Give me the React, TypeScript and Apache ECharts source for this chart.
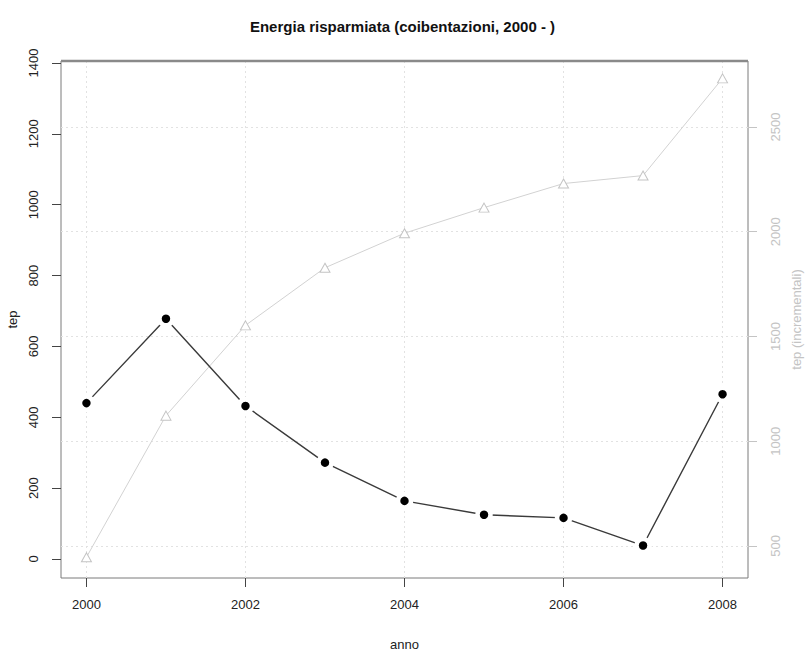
import React, { useEffect, useRef } from "react";
import * as echarts from "echarts";

const years = [2000, 2001, 2002, 2003, 2004, 2005, 2006, 2007, 2008];
const tepValues = [440, 678, 432, 272, 164, 125, 116, 38, 465];
const tepIncremental = [446, 1122, 1553, 1828, 1993, 2115, 2230, 2268, 2732];
const xTicks = [2000, 2002, 2004, 2006, 2008];
const leftTicks = [0, 200, 400, 600, 800, 1000, 1200, 1400];
const rightTicks = [500, 1000, 1500, 2000, 2500];

const FONT = "Liberation Sans";

export default function App() {
  const ref = useRef<HTMLDivElement>(null);
  useEffect(() => {
    if (!ref.current) return;
    const chart = echarts.init(ref.current, null, { renderer: "svg" });
    const gridStyle = { color: "#e2e2e2", width: 1, type: [2, 3] as any };
    const plain = (v: number) => String(Math.round(v));
    chart.setOption({
      animation: false,
      backgroundColor: "#ffffff",
      title: {
        text: "Energia risparmiata (coibentazioni, 2000 - )",
        left: "center",
        top: 14,
        textStyle: { fontFamily: FONT, fontSize: 15, fontWeight: "bold", color: "#111" },
      },
      grid: {
        left: 61,
        right: 57,
        top: 61,
        bottom: 73,
        show: true,
        borderColor: "#7a7a7a",
        borderWidth: 1,
        backgroundColor: "transparent",
        containLabel: false,
        outerBoundsMode: "none",
      },
      xAxis: {
        type: "value",
        min: 1999.68,
        max: 2008.32,
        name: "anno",
        nameLocation: "middle",
        nameGap: 60,
        nameTextStyle: { fontFamily: FONT, fontSize: 13, color: "#222", verticalAlign: "top" },
        axisLine: { show: false, onZero: false },
        splitLine: { show: false },
        axisTick: { show: true, customValues: xTicks, length: 9, lineStyle: { color: "#444" } },
        axisLabel: {
          customValues: xTicks,
          margin: 20,
          fontFamily: FONT,
          fontSize: 13,
          color: "#222",
          formatter: plain,
        },
      },
      yAxis: [
        {
          type: "value",
          position: "left",
          min: -53.6,
          max: 1405.6,
          name: "tep",
          nameLocation: "middle",
          nameGap: 38,
          nameRotate: 90,
          nameTextStyle: { fontFamily: FONT, fontSize: 13, color: "#222" },
          axisLine: { show: false, onZero: false },
          splitLine: { show: false },
          axisTick: { show: true, customValues: leftTicks, length: 9, lineStyle: { color: "#444" } },
          axisLabel: {
            customValues: leftTicks,
            rotate: 90,
            margin: 21,
            fontFamily: FONT,
            fontSize: 13,
            color: "#222",
            formatter: plain,
          },
        },
        {
          type: "value",
          position: "right",
          min: 347,
          max: 2815,
          name: "tep (incrementali)",
          nameLocation: "middle",
          nameGap: 21,
          nameRotate: 90,
          nameTextStyle: { fontFamily: FONT, fontSize: 13, color: "#c4c4c4" },
          axisLine: { show: false, onZero: false },
          splitLine: { show: false },
          axisTick: { show: true, customValues: rightTicks, length: 9, lineStyle: { color: "#c4c4c4" } },
          axisLabel: {
            customValues: rightTicks,
            rotate: 90,
            margin: 21,
            fontFamily: FONT,
            fontSize: 13,
            color: "#c4c4c4",
            formatter: plain,
          },
        },
      ],
      graphic: [
        {
          type: "line",
          shape: { x1: 61, y1: 61, x2: 748, y2: 61 },
          style: { stroke: "#8a8a8a", lineWidth: 2.5 },
          z: 100,
        },
      ],
      series: [
        {
          type: "line",
          yAxisIndex: 1,
          data: years.map((y, i) => [y, tepIncremental[i]]),
          symbol: "triangle",
          symbolSize: [10, 9],
          showAllSymbol: true,
          lineStyle: { color: "#d2d2d2", width: 1 },
          itemStyle: { color: "#ffffff", borderColor: "#c4c4c4", borderWidth: 1 },
          z: 2,
          markLine: {
            silent: true,
            symbol: ["none", "none"],
            label: { show: false },
            lineStyle: gridStyle,
            z: 0,
            animation: false,
            data: [
              ...xTicks.map((x) => ({ xAxis: x })),
              ...rightTicks.map((v) => ({ yAxis: v })),
            ],
          },
        },
        {
          type: "line",
          yAxisIndex: 0,
          data: years.map((y, i) => [y, tepValues[i]]),
          symbol: "circle",
          symbolSize: 13,
          showAllSymbol: true,
          lineStyle: { color: "#3a3a3a", width: 1.4 },
          itemStyle: { color: "#000000", borderColor: "#ffffff", borderWidth: 4.5 },
          z: 3,
        },
      ],
    });
    return () => chart.dispose();
  }, []);
  return <div ref={ref} style={{ width: 805, height: 651, position: "absolute", left: 0, top: 0 }} />;
}
